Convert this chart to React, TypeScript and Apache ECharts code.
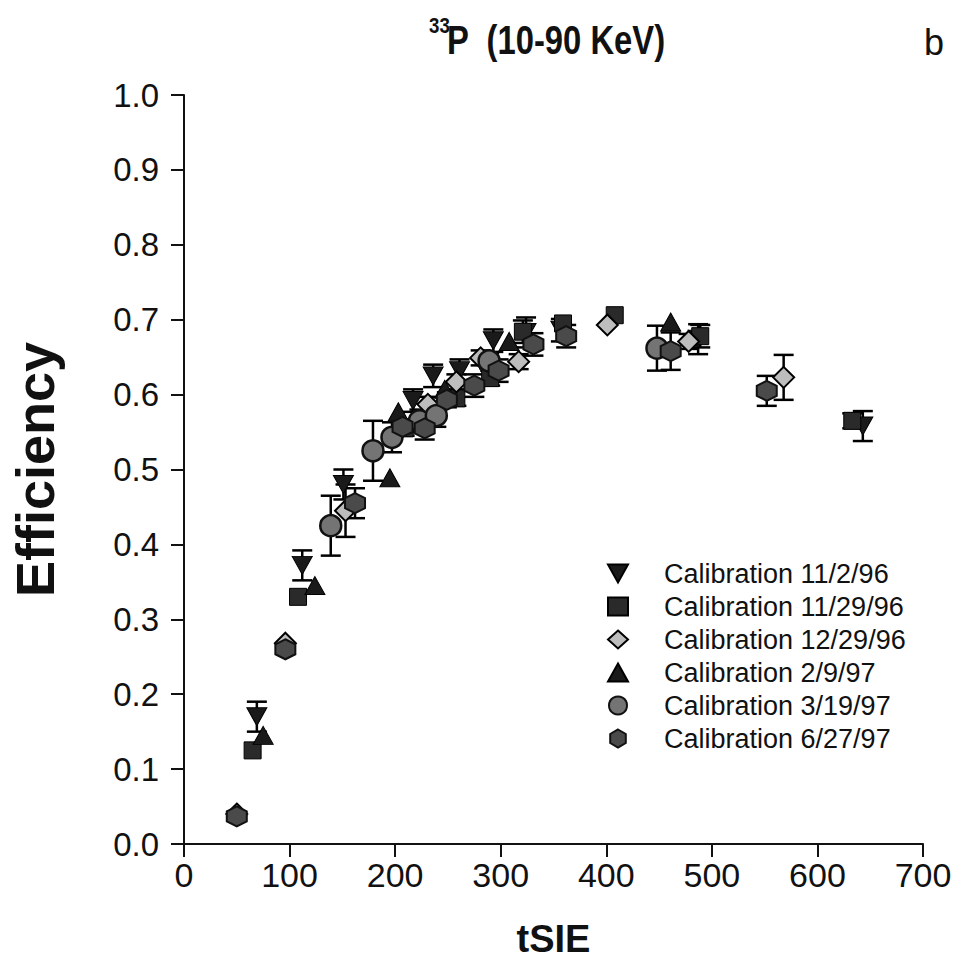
import React, { useEffect, useRef } from "react";
import * as echarts from "echarts";

const seriesNames = [
  "Calibration 11/2/96",
  "Calibration 11/29/96",
  "Calibration 12/29/96",
  "Calibration 2/9/97",
  "Calibration 3/19/97",
  "Calibration 6/27/97",
];

const cal1102 = [[69, 0.17], [112, 0.372], [151, 0.48], [217, 0.592], [236, 0.625], [261, 0.632], [293, 0.672], [324, 0.683], [357, 0.686], [487, 0.674], [643, 0.558]];
const err1102 = [0.02, 0.02, 0.02, 0.015, 0.015, 0.015, 0.015, 0.02, 0.015, 0.02, 0.02];

const cal1129 = [[65, 0.125], [108, 0.33], [209, 0.555], [258, 0.595], [290, 0.622], [321, 0.684], [359, 0.695], [408, 0.706], [489, 0.678], [633, 0.565]];
const err1129 = [0, 0, 0.01, 0.01, 0.01, 0.015, 0, 0, 0.015, 0.01];

const cal1229 = [[50, 0.04], [96, 0.268], [153, 0.445], [231, 0.587], [258, 0.617], [281, 0.649], [317, 0.644], [401, 0.693], [478, 0.671], [568, 0.623]];
const err1229 = [0, 0, 0.035, 0.01, 0.01, 0.01, 0.01, 0, 0.01, 0.03];

const cal0209 = [[75, 0.145], [124, 0.345], [195, 0.489], [203, 0.577], [247, 0.607], [308, 0.671], [461, 0.697]];
const err0209 = [0, 0, 0, 0, 0, 0, 0];

const cal0319 = [[139, 0.425], [179, 0.525], [197, 0.543], [223, 0.565], [239, 0.572], [289, 0.645], [448, 0.662]];
const err0319 = [0.04, 0.04, 0.02, 0.015, 0.015, 0.01, 0.03];

const cal0627 = [[50, 0.037], [96, 0.26], [162, 0.455], [207, 0.557], [228, 0.555], [249, 0.593], [275, 0.612], [298, 0.632], [331, 0.667], [362, 0.678], [461, 0.658], [552, 0.605]];
const err0627 = [0, 0, 0.02, 0.01, 0.015, 0.01, 0.015, 0.015, 0.015, 0.015, 0.025, 0.02];

const allData = [cal1102, cal1129, cal1229, cal0209, cal0319, cal0627];
const allErr = [err1102, err1129, err1229, err0209, err0319, err0627];

const HEX = "path://M10,0 L18.66,5 L18.66,15 L10,20 L1.34,15 L1.34,5 Z";
const DOWN_TRI = "path://M0,0 L20,0 L10,18 Z";

const markerStyles = [
  { symbol: DOWN_TRI, size: [20, 18], color: "#1a1a1a", border: "#000", bw: 1 },
  { symbol: "rect", size: [17, 17], color: "#2a2a2a", border: "#000", bw: 1 },
  { symbol: "diamond", size: [21, 21], color: "#bdbdbd", border: "#000", bw: 2 },
  { symbol: "triangle", size: [20, 18], color: "#1a1a1a", border: "#000", bw: 1 },
  { symbol: "circle", size: [21, 21], color: "#747474", border: "#111", bw: 2.5 },
  { symbol: HEX, size: [20, 20], color: "#4a4a4a", border: "#111", bw: 2 },
];

const FONT = "Liberation Sans, Arial, sans-serif";

export default function App() {
  const ref = useRef<HTMLDivElement>(null);
  useEffect(() => {
    if (!ref.current) return;
    const chart = echarts.init(ref.current, undefined, { renderer: "svg" });

    const errorSeries = allData.map((d, i) => ({
      type: "custom",
      name: "err" + i,
      coordinateSystem: "cartesian2d",
      z: 1,
      silent: true,
      encode: { x: 0, y: 1 },
      data: d.map((p, j) => [p[0], p[1], allErr[i][j]]),
      renderItem: (params: any, api: any) => {
        const x = api.value(0);
        const y = api.value(1);
        const e = api.value(2);
        if (!e) return null;
        const top = api.coord([x, y + e]);
        const bot = api.coord([x, y - e]);
        const hw = 10;
        const st = { stroke: "#000", lineWidth: 2.5 };
        return {
          type: "group",
          children: [
            { type: "line", shape: { x1: top[0], y1: top[1], x2: bot[0], y2: bot[1] }, style: st },
            { type: "line", shape: { x1: top[0] - hw, y1: top[1], x2: top[0] + hw, y2: top[1] }, style: st },
            { type: "line", shape: { x1: bot[0] - hw, y1: bot[1], x2: bot[0] + hw, y2: bot[1] }, style: st },
          ],
        };
      },
    }));

    const scatterSeries = allData.map((d, i) => {
      const m = markerStyles[i];
      return {
        type: "scatter",
        name: seriesNames[i],
        z: 2,
        data: d,
        symbol: m.symbol,
        symbolSize: m.size,
        itemStyle: { color: m.color, borderColor: m.border, borderWidth: m.bw, opacity: 1 },
      };
    });

    chart.setOption({
      animation: false,
      backgroundColor: "#fff",
      grid: { left: 174, right: 40, top: 95, bottom: 130, containLabel: false },
      xAxis: {
        type: "value",
        min: 0,
        max: 700,
        interval: 100,
        name: "tSIE",
        nameLocation: "middle",
        nameGap: 76,
        nameTextStyle: { fontSize: 38, fontWeight: "bold", fontFamily: FONT, color: "#111" },
        axisLine: { lineStyle: { color: "#111", width: 2 } },
        axisTick: { inside: false, length: 13, lineStyle: { color: "#111", width: 2 } },
        axisLabel: { fontSize: 34, fontFamily: FONT, color: "#111", margin: 14 },
        splitLine: { show: false },
      },
      yAxis: {
        type: "value",
        min: 0,
        max: 1,
        interval: 0.1,
        name: "Efficiency",
        nameLocation: "middle",
        nameGap: 122,
        nameRotate: 90,
        nameTextStyle: { fontSize: 54, fontWeight: "bold", fontFamily: FONT, color: "#111" },
        axisLine: { lineStyle: { color: "#111", width: 2 } },
        axisTick: { inside: false, length: 13, lineStyle: { color: "#111", width: 2 } },
        axisLabel: {
          fontSize: 33,
          fontFamily: FONT,
          color: "#111",
          margin: 25,
          formatter: (v: number) => v.toFixed(1),
        },
        splitLine: { show: false },
      },
      legend: {
        data: seriesNames,
        orient: "vertical",
        left: 602,
        top: 555,
        itemWidth: 20,
        itemHeight: 18,
        itemGap: 6,
        textStyle: { fontSize: 27, fontFamily: FONT, color: "#111", padding: [0, 0, 0, 31] },
      },
      graphic: [
        {
          type: "text",
          left: 429,
          top: 14,
          scaleX: 0.85,
          style: { text: "33", fontSize: 22, fontWeight: "bold", fontFamily: FONT, fill: "#111" },
        },
        {
          type: "text",
          left: 447,
          top: 20,
          scaleX: 0.82,
          style: { text: "P  (10-90 KeV)", fontSize: 40, fontWeight: "bold", fontFamily: FONT, fill: "#111" },
        },
        {
          type: "text",
          left: 924,
          top: 24,
          style: { text: "b", fontSize: 36, fontFamily: FONT, fill: "#111" },
        },
      ],
      series: [...errorSeries, ...scatterSeries],
    });
    return () => chart.dispose();
  }, []);
  return (
    <div
      ref={ref}
      style={{ position: "fixed", left: 0, top: 0, width: 963, height: 974, background: "#fff" }}
    />
  );
}
